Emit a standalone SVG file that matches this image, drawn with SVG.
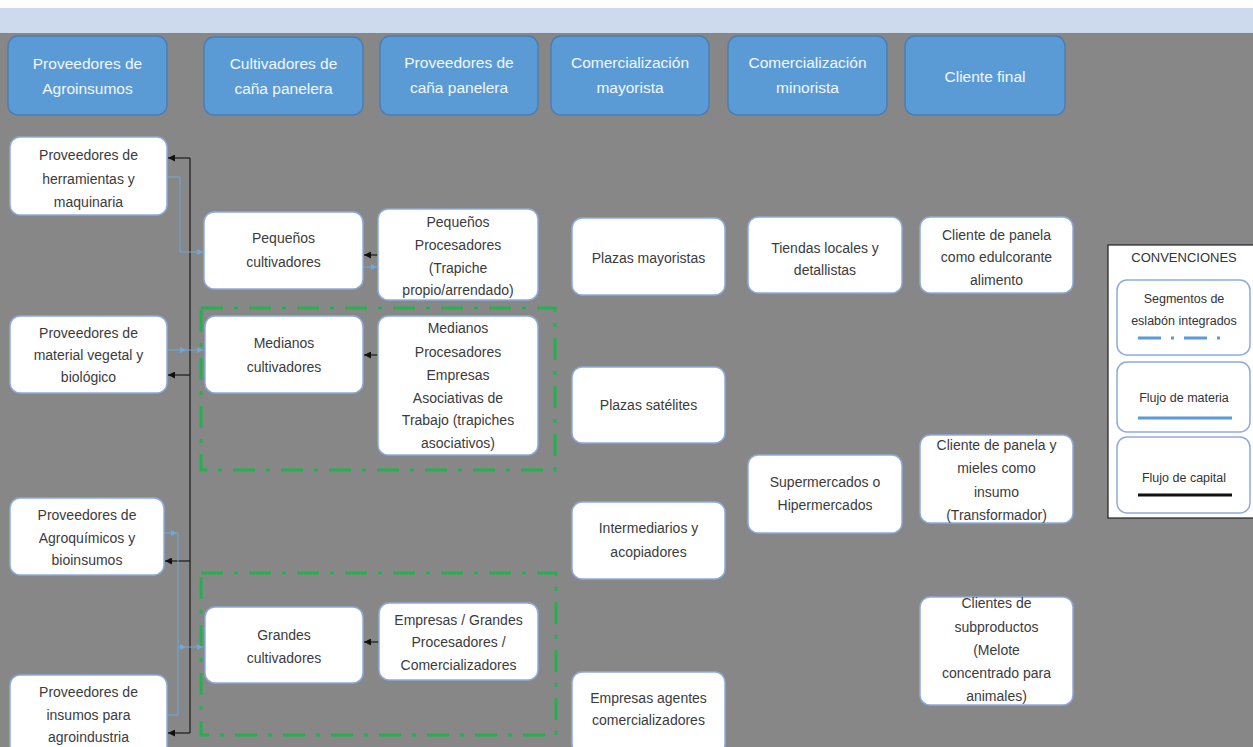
<svg xmlns="http://www.w3.org/2000/svg" width="1253" height="747" viewBox="0 0 1253 747">
<defs>
<style>
.hdr rect{fill:#5b9bd5;stroke:#4a7fb5;stroke-width:1.5}
.hdr text{fill:#f3f7fc;font-family:"Liberation Sans",Arial,sans-serif;font-size:15.5px;text-anchor:middle}
.nd rect{fill:#ffffff;stroke:#8eaadb;stroke-width:1.5}
.nd text{fill:#3b3b3b;font-family:"Liberation Sans",Arial,sans-serif;font-size:14px;text-anchor:middle}
.grp{fill:none;stroke:#22b14c;stroke-width:3;stroke-dasharray:22 11 4 11}
.cap{stroke:#1a1a1a;stroke-width:1.2;fill:none}
.mat{stroke:#6fa8dc;stroke-width:1;fill:none}
.lg text{fill:#333;font-family:"Liberation Sans",Arial,sans-serif;font-size:12.5px;text-anchor:middle}
.lg rect.in{fill:#fff;stroke:#8eaadb;stroke-width:1.5}
</style>
<marker id="ab" viewBox="0 0 10 10" refX="10" refY="5" markerWidth="7" markerHeight="7" orient="auto" markerUnits="userSpaceOnUse"><path d="M0,0 L10,5 L0,10 z" fill="#111"/></marker>
<marker id="au" viewBox="0 0 10 10" refX="10" refY="5" markerWidth="6" markerHeight="6" orient="auto" markerUnits="userSpaceOnUse"><path d="M0,0 L10,5 L0,10 z" fill="#6fa8dc"/></marker>
</defs>
<rect x="0" y="0" width="1253" height="747" fill="#878787"/>
<rect x="0" y="0" width="1253" height="8" fill="#ffffff"/>
<rect x="0" y="8" width="1253" height="25" fill="#cdd9ec"/>

<g id="h1" class="hdr"><rect x="8" y="36" width="159" height="79" rx="10"/><text x="87.5" y="69">Proveedores de</text><text x="87.5" y="94">Agroinsumos</text></g>
<g id="h2" class="hdr"><rect x="204" y="37" width="159" height="78" rx="10"/><text x="283.5" y="69">Cultivadores de</text><text x="283.5" y="94">caña panelera</text></g>
<g id="h3" class="hdr"><rect x="380" y="36" width="158" height="79" rx="10"/><text x="459" y="68">Proveedores de</text><text x="459" y="93">caña panelera</text></g>
<g id="h4" class="hdr"><rect x="551" y="36" width="158" height="79" rx="10"/><text x="630" y="68">Comercialización</text><text x="630" y="93">mayorista</text></g>
<g id="h5" class="hdr"><rect x="728" y="36" width="159" height="79" rx="10"/><text x="807.5" y="68">Comercialización</text><text x="807.5" y="93">minorista</text></g>
<g id="h6" class="hdr"><rect x="905" y="36" width="160" height="79" rx="10"/><text x="985" y="82">Cliente final</text></g>

<g id="grp1"><rect class="grp" x="201" y="308" width="354" height="162"/></g>
<g id="grp2"><rect class="grp" x="201" y="573" width="355" height="162"/></g>

<g id="connectors">
<path class="cap" d="M190,158 V733"/>
<path class="cap" d="M190,158 H168" marker-end="url(#ab)"/>
<path class="cap" d="M190,375 H168" marker-end="url(#ab)"/>
<path class="cap" d="M190,561 H165" marker-end="url(#ab)"/>
<path class="cap" d="M190,733 H168" marker-end="url(#ab)"/>
<path class="cap" d="M378,255 H364" marker-end="url(#ab)"/>
<path class="cap" d="M378,355 H364" marker-end="url(#ab)"/>
<path class="cap" d="M379,642 H364" marker-end="url(#ab)"/>
<path class="mat" d="M167,177 H180 V252 H203" marker-end="url(#au)"/>
<path class="mat" d="M167,350 H186 H203" marker-mid="url(#au)" marker-end="url(#au)"/>
<path class="mat" d="M164,533 H177" marker-end="url(#au)"/>
<path class="mat" d="M177,533 H178 V647"/>
<path class="mat" d="M178,647 H186 H203" marker-mid="url(#au)" marker-end="url(#au)"/>
<path class="mat" d="M167,715 H178 V647"/>
<path class="mat" d="M363,267 H377" marker-end="url(#au)"/>
</g>

<g id="n_herr" class="nd"><rect x="10" y="137" width="157" height="78" rx="10"/><text x="88.5" y="160">Proveedores de</text><text x="88.5" y="184">herramientas y</text><text x="88.5" y="207">maquinaria</text></g>
<g id="n_veg" class="nd"><rect x="10" y="316" width="157" height="77" rx="10"/><text x="88.5" y="338">Proveedores de</text><text x="88.5" y="360">material vegetal y</text><text x="88.5" y="382">biológico</text></g>
<g id="n_agro" class="nd"><rect x="10" y="498" width="154" height="77" rx="10"/><text x="87" y="520">Proveedores de</text><text x="87" y="543">Agroquímicos y</text><text x="87" y="565">bioinsumos</text></g>
<g id="n_ins" class="nd"><rect x="10" y="675" width="157" height="82" rx="10"/><text x="88.5" y="697">Proveedores de</text><text x="88.5" y="720">insumos para</text><text x="88.5" y="742">agroindustria</text></g>

<g id="n_pc" class="nd"><rect x="204" y="212" width="159" height="77" rx="10"/><text x="283.5" y="243">Pequeños</text><text x="283.5" y="267">cultivadores</text></g>
<g id="n_mc" class="nd"><rect x="205" y="316" width="158" height="77" rx="10"/><text x="284" y="348">Medianos</text><text x="284" y="372">cultivadores</text></g>
<g id="n_gc" class="nd"><rect x="205" y="607" width="158" height="76" rx="10"/><text x="284" y="640">Grandes</text><text x="284" y="663">cultivadores</text></g>

<g id="n_pp" class="nd"><rect x="378" y="209" width="160" height="91" rx="10"/><text x="458" y="227">Pequeños</text><text x="458" y="250">Procesadores</text><text x="458" y="273">(Trapiche</text><text x="458" y="295">propio/arrendado)</text></g>
<g id="n_mp" class="nd"><rect x="378" y="316" width="160" height="139" rx="10"/><text x="458" y="333">Medianos</text><text x="458" y="357">Procesadores</text><text x="458" y="380">Empresas</text><text x="458" y="403">Asociativas de</text><text x="458" y="425">Trabajo (trapiches</text><text x="458" y="448">asociativos)</text></g>
<g id="n_gp" class="nd"><rect x="379" y="603" width="159" height="77" rx="10"/><text x="458.5" y="625">Empresas / Grandes</text><text x="458.5" y="647">Procesadores /</text><text x="458.5" y="670">Comercializadores</text></g>

<g id="n_pm" class="nd"><rect x="572" y="218" width="153" height="77" rx="10"/><text x="648.5" y="263">Plazas mayoristas</text></g>
<g id="n_ps" class="nd"><rect x="572" y="367" width="153" height="76" rx="10"/><text x="648.5" y="410">Plazas satélites</text></g>
<g id="n_ia" class="nd"><rect x="572" y="502" width="153" height="77" rx="10"/><text x="648.5" y="533">Intermediarios y</text><text x="648.5" y="557">acopiadores</text></g>
<g id="n_ea" class="nd"><rect x="572" y="672" width="153" height="82" rx="10"/><text x="648.5" y="703">Empresas agentes</text><text x="648.5" y="725">comercializadores</text></g>

<g id="n_tl" class="nd"><rect x="748" y="217" width="154" height="76" rx="10"/><text x="825" y="253">Tiendas locales y</text><text x="825" y="275">detallistas</text></g>
<g id="n_sh" class="nd"><rect x="748" y="455" width="154" height="78" rx="10"/><text x="825" y="487">Supermercados o</text><text x="825" y="510">Hipermercados</text></g>

<g id="n_c1" class="nd"><rect x="920" y="217" width="153" height="76" rx="10"/><text x="996.5" y="240">Cliente de panela</text><text x="996.5" y="262">como edulcorante</text><text x="996.5" y="285">alimento</text></g>
<g id="n_c2" class="nd"><rect x="920" y="435" width="153" height="88" rx="10"/><text x="996.5" y="450">Cliente de panela y</text><text x="996.5" y="473">mieles como</text><text x="996.5" y="497">insumo</text><text x="996.5" y="520">(Transformador)</text></g>
<g id="n_c3" class="nd"><rect x="920" y="597" width="153" height="108" rx="10"/><text x="996.5" y="608">Clientes de</text><text x="996.5" y="632">subproductos</text><text x="996.5" y="655">(Melote</text><text x="996.5" y="678">concentrado para</text><text x="996.5" y="701">animales)</text></g>

<g id="legend" class="lg">
<rect x="1108" y="245" width="160" height="273" fill="#ffffff" stroke="#222" stroke-width="1.2"/>
<text x="1184" y="262" style="font-size:13px">CONVENCIONES</text>
<rect class="in" x="1117" y="280" width="133" height="75" rx="10"/>
<text x="1184" y="303">Segmentos de</text><text x="1184" y="325">eslabón integrados</text>
<line x1="1138" y1="338" x2="1226" y2="338" stroke="#5b9bd5" stroke-width="3" stroke-dasharray="23 10 3 10"/>
<rect class="in" x="1117" y="362" width="133" height="70" rx="10"/>
<text x="1184" y="402">Flujo de materia</text>
<line x1="1138" y1="418" x2="1232" y2="418" stroke="#5b9bd5" stroke-width="3"/>
<rect class="in" x="1117" y="437" width="133" height="76" rx="10"/>
<text x="1184" y="482">Flujo de capital</text>
<line x1="1138" y1="495" x2="1232" y2="495" stroke="#111" stroke-width="3"/>
</g>
</svg>
